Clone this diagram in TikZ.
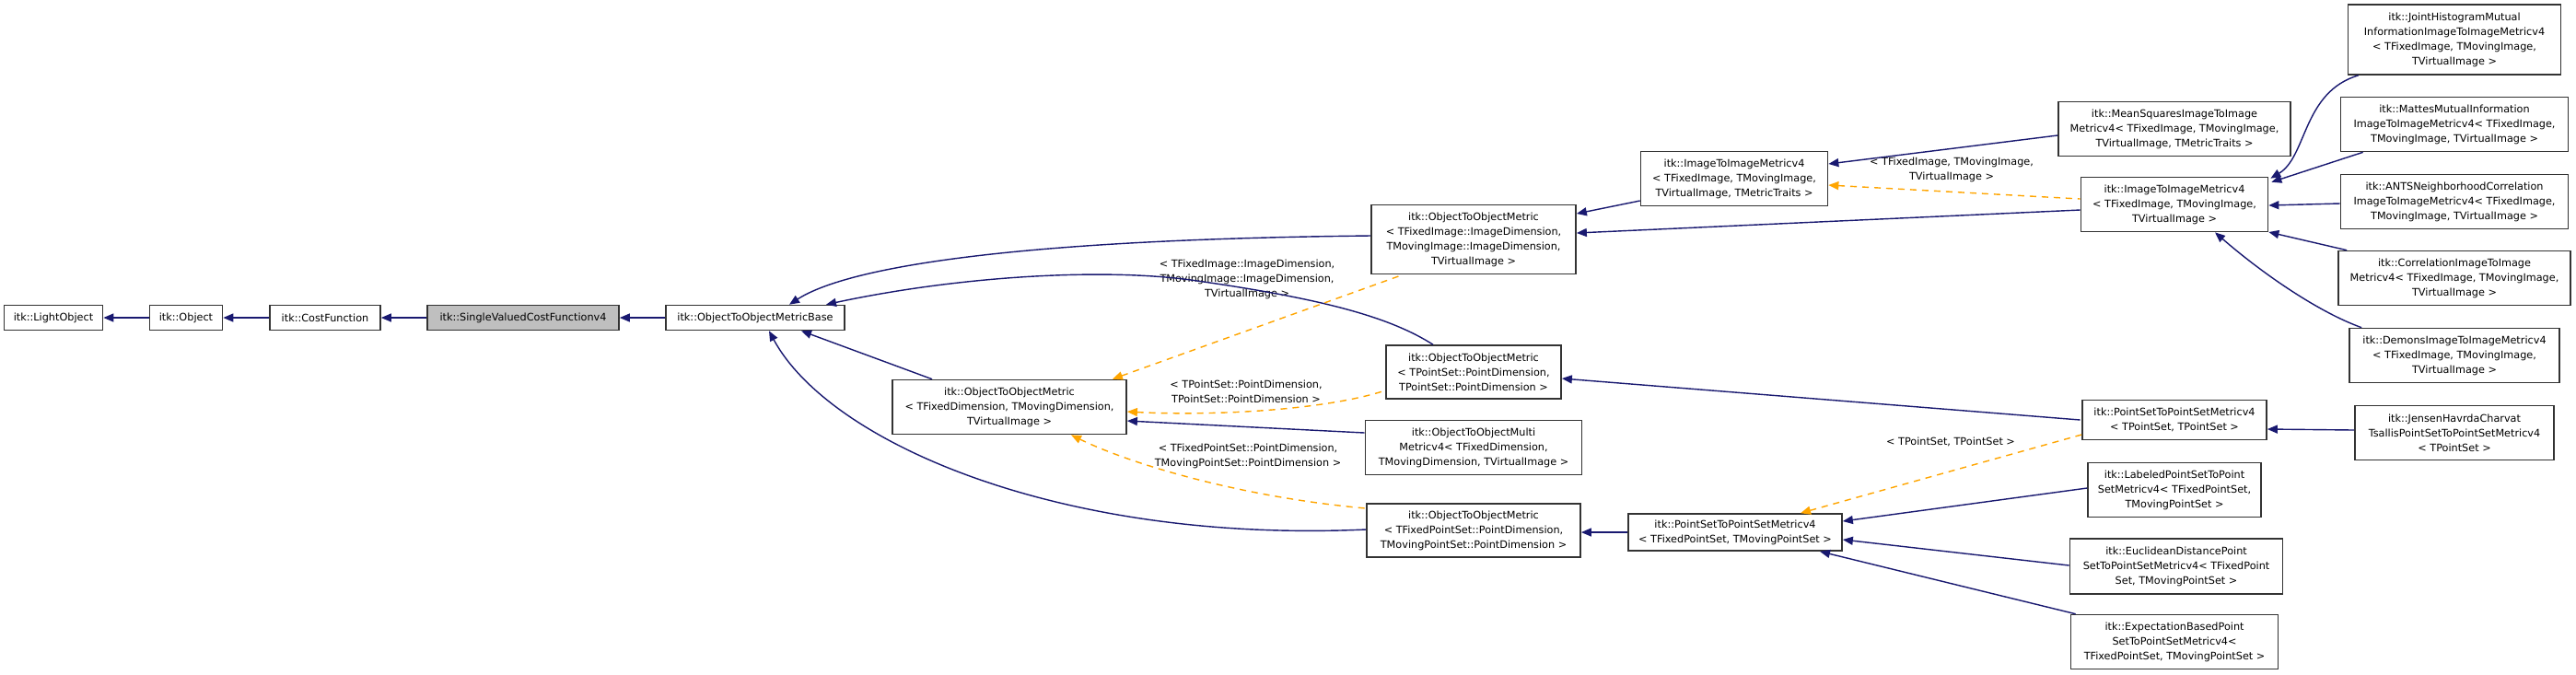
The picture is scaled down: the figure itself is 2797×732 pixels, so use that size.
\documentclass[tikz,border=0pt]{standalone}
\usepackage{fontspec}
\setmainfont{DejaVu Sans}
\usetikzlibrary{arrows.meta,calc}
\definecolor{edgeblue}{HTML}{191970}
\definecolor{edgeorange}{HTML}{FFA500}
\tikzset{
  cls/.style={draw=black!80, line width=0.45pt, fill=white, rectangle, inner sep=0pt,
    align=center, font=\fontsize{3.2}{4.55}\selectfont},
  inh/.style={draw=edgeblue, line width=0.4pt, {Triangle[length=1.1mm,width=0.9mm]}-},
  tpl/.style={draw=edgeorange, line width=0.4pt, dash pattern=on 2pt off 1.7pt,
    {Triangle[length=1.1mm,width=0.9mm]}-},
  lbl/.style={align=center, inner sep=0pt, font=\fontsize{3.2}{4.55}\selectfont}
}
\begin{document}
\begin{tikzpicture}[x=0.01cm,y=-0.01cm]
	\useasboundingbox (0,0) rectangle (2797,732);
	
	%chain
	\node[cls, minimum width=1.07cm, minimum height=0.27cm] (lightobj) at (58,345) {itk::LightObject};
	\node[cls, minimum width=0.79cm, minimum height=0.27cm] (object) at (202,345) {itk::Object};
	\node[cls, minimum width=1.20cm, minimum height=0.27cm] (costfn) at (353,345) {itk::CostFunction};
	\node[cls, minimum width=2.08cm, minimum height=0.27cm, fill=black!25] (singlev) at (568,345) {itk::SingleValuedCostFunctionv4};
	\node[cls, minimum width=1.94cm, minimum height=0.27cm] (otombase) at (820,345) {itk::ObjectToObjectMetricBase};
	%object to object metrics
	\node[cls, minimum width=2.54cm, minimum height=0.59cm] (otomdim) at (1096,442) {itk::ObjectToObjectMetric\\< TFixedDimension, TMovingDimension,\\TVirtualImage >};
	\node[cls, minimum width=2.22cm, minimum height=0.75cm] (otomimg) at (1600,260) {itk::ObjectToObjectMetric\\< TFixedImage::ImageDimension,\\TMovingImage::ImageDimension,\\TVirtualImage >};
	\node[cls, minimum width=1.90cm, minimum height=0.58cm] (otompts) at (1600,404) {itk::ObjectToObjectMetric\\< TPointSet::PointDimension,\\TPointSet::PointDimension >};
	\node[cls, minimum width=2.35cm, minimum height=0.59cm] (otommulti) at (1600,486) {itk::ObjectToObjectMulti\\Metricv4< TFixedDimension,\\TMovingDimension, TVirtualImage >};
	\node[cls, minimum width=2.32cm, minimum height=0.58cm] (otomfps) at (1600,576) {itk::ObjectToObjectMetric\\< TFixedPointSet::PointDimension,\\TMovingPointSet::PointDimension >};
	%second level
	\node[cls, minimum width=2.03cm, minimum height=0.59cm] (itimtraits) at (1883,194) {itk::ImageToImageMetricv4\\< TFixedImage, TMovingImage,\\TVirtualImage, TMetricTraits >};
	\node[cls, minimum width=2.32cm, minimum height=0.40cm] (pspsfixed) at (1884,578) {itk::PointSetToPointSetMetricv4\\< TFixedPointSet, TMovingPointSet >};
	\node[cls, minimum width=2.52cm, minimum height=0.59cm] (meansq) at (2361,140) {itk::MeanSquaresImageToImage\\Metricv4< TFixedImage, TMovingImage,\\TVirtualImage, TMetricTraits >};
	\node[cls, minimum width=2.03cm, minimum height=0.59cm] (itim) at (2361,222) {itk::ImageToImageMetricv4\\< TFixedImage, TMovingImage,\\TVirtualImage >};
	\node[cls, minimum width=2.00cm, minimum height=0.43cm] (psps) at (2361,456) {itk::PointSetToPointSetMetricv4\\< TPointSet, TPointSet >};
	\node[cls, minimum width=1.88cm, minimum height=0.59cm] (labeled) at (2361,532) {itk::LabeledPointSetToPoint\\SetMetricv4< TFixedPointSet,\\TMovingPointSet >};
	\node[cls, minimum width=2.31cm, minimum height=0.60cm] (euclid) at (2363,615) {itk::EuclideanDistancePoint\\SetToPointSetMetricv4< TFixedPoint\\Set, TMovingPointSet >};
	\node[cls, minimum width=2.25cm, minimum height=0.59cm] (expect) at (2361,697) {itk::ExpectationBasedPoint\\SetToPointSetMetricv4<\\TFixedPointSet, TMovingPointSet >};
	%leaves
	\node[cls, minimum width=2.31cm, minimum height=0.76cm] (joint) at (2665,43) {itk::JointHistogramMutual\\InformationImageToImageMetricv4\\< TFixedImage, TMovingImage,\\TVirtualImage >};
	\node[cls, minimum width=2.47cm, minimum height=0.59cm] (mattes) at (2665,135) {itk::MattesMutualInformation\\ImageToImageMetricv4< TFixedImage,\\TMovingImage, TVirtualImage >};
	\node[cls, minimum width=2.47cm, minimum height=0.59cm] (ants) at (2665,219) {itk::ANTSNeighborhoodCorrelation\\ImageToImageMetricv4< TFixedImage,\\TMovingImage, TVirtualImage >};
	\node[cls, minimum width=2.52cm, minimum height=0.59cm] (corr) at (2665,302) {itk::CorrelationImageToImage\\Metricv4< TFixedImage, TMovingImage,\\TVirtualImage >};
	\node[cls, minimum width=2.28cm, minimum height=0.59cm] (demons) at (2665,386) {itk::DemonsImageToImageMetricv4\\< TFixedImage, TMovingImage,\\TVirtualImage >};
	\node[cls, minimum width=2.16cm, minimum height=0.59cm] (jensen) at (2665,470) {itk::JensenHavrdaCharvat\\TsallisPointSetToPointSetMetricv4\\< TPointSet >};
	%labels
	\node[lbl] (lblimg) at (1354,303) {< TFixedImage::ImageDimension,\\TMovingImage::ImageDimension,\\TVirtualImage >};
	\node[lbl] (lblpts) at (1353,425) {< TPointSet::PointDimension,\\TPointSet::PointDimension >};
	\node[lbl] (lblfps) at (1355,495) {< TFixedPointSet::PointDimension,\\TMovingPointSet::PointDimension >};
	\node[lbl] (lblitim) at (2119,184) {< TFixedImage, TMovingImage,\\TVirtualImage >};
	\node[lbl] (lblpsps) at (2118,480) {< TPointSet, TPointSet >};
	
	%inheritance
	\draw[inh] (lightobj) -- (object);
	\draw[inh] (object) -- (costfn);
	\draw[inh] (costfn) -- (singlev);
	\draw[inh] (singlev) -- (otombase);
	\draw[inh] ($(otombase.north)+(37,0)$) .. controls (920,290) and (1100,260) .. ($(otomimg.west)+(0,-4)$);
	\draw[inh] ($(otombase.north)+(77,0)$) .. controls (1040,300) and (1200,290) .. (1300,305) .. controls (1440,325) and (1510,345) .. ($(otompts.north)+(-44,0)$);
	\draw[inh] ($(otombase.south)+(50,0)$) -- ($(otomdim.north)+(-84,0)$);
	\draw[inh] ($(otombase.south)+(15,0)$) .. controls (900,480) and (1150,590) .. ($(otomfps.west)+(0,-1)$);
	\draw[inh] ($(otomdim.east)+(0,15)$) -- ($(otommulti.west)+(0,-16)$);
	\draw[inh] ($(otomimg.east)+(0,-28)$) -- ($(itimtraits.west)+(0,24)$);
	\draw[inh] ($(otomimg.east)+(0,-7)$) -- ($(itim.west)+(0,6)$);
	\draw[inh] ($(itimtraits.east)+(0,-16)$) -- ($(meansq.west)+(0,7)$);
	\draw[inh] ($(itim.north east)+(2,2)$) .. controls (2505,170) and (2500,100) .. ($(joint.south west)+(12,0)$);
	\draw[inh] ($(itim.north east)+(3,6)$) -- ($(mattes.south west)+(25,0)$);
	\draw[inh] ($(itim.east)+(0,1)$) -- ($(ants.west)+(0,2)$);
	\draw[inh] ($(itim.east)+(0,30)$) -- ($(corr.north west)+(10,0)$);
	\draw[inh] ($(itim.south)+(44,0)$) .. controls (2460,300) and (2520,340) .. ($(demons.north west)+(14,0)$);
	\draw[inh] ($(otompts.east)+(0,7)$) -- ($(itim.west)+(0,234)$);
	\draw[inh] ($(psps.east)+(0,10)$) -- ($(jensen.west)+(0,-3)$);
	\draw[inh] (otomfps.east |- pspsfixed) -- (pspsfixed.west);
	\draw[inh] ($(pspsfixed.east)+(0,-12)$) -- ($(labeled.west)+(0,-2)$);
	\draw[inh] ($(pspsfixed.east)+(0,8)$) -- ($(euclid.west)+(0,-1)$);
	\draw[inh] ($(pspsfixed.south)+(92,0)$) -- ($(expect.north west)+(6,0)$);
	%templates
	\draw[tpl] ($(otomdim.north east)+(-16,0)$) -- ($(otomimg.south west)+(35,0)$);
	\draw[tpl] ($(otomdim.east)+(0,5)$) .. controls (1320,452) and (1440,445) .. ($(otompts.west)+(0,20)$);
	\draw[tpl] ($(otomdim.south)+(67,0)$) .. controls (1230,505) and (1350,540) .. ($(otomfps.west)+(0,-24)$);
	\draw[tpl] ($(itimtraits.east)+(0,7)$) -- ($(itim.west)+(0,-6)$);
	\draw[tpl] ($(pspsfixed.north)+(71,0)$) -- ($(psps.west)+(0,16)$);
\end{tikzpicture}
\end{document}
